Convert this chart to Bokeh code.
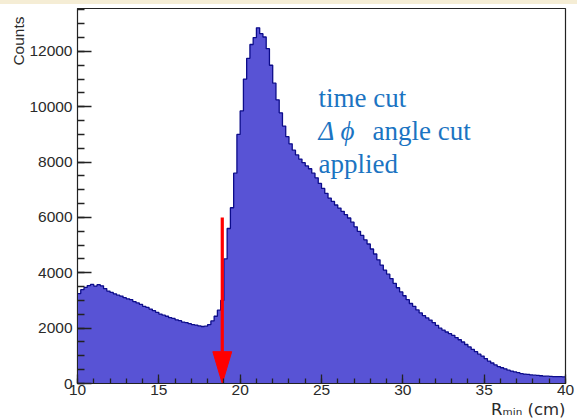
import numpy as np
from bokeh.plotting import figure
from bokeh.models import Range1d, SingleIntervalTicker, Label, Div, Arrow, Title
from bokeh.layouts import column
from bokeh.embed import file_html
from bokeh.resources import INLINE

# ---- data: histogram of R_min (cm), 150 bins of 0.2 cm from 10 to 40 ----
bin_low = 10.0
bin_high = 40.0
n_bins = 150
counts = [
    3250, 3390, 3470, 3540, 3580, 3520, 3570, 3530, 3430, 3340,   # 10.0 - 11.8
    3290, 3240, 3190, 3160, 3100, 3060, 3030, 2960, 2910, 2860,   # 12.0 - 13.8
    2790, 2750, 2690, 2630, 2570, 2510, 2470, 2430, 2380, 2350,   # 14.0 - 15.8
    2300, 2270, 2220, 2200, 2160, 2130, 2110, 2080, 2060, 2070,   # 16.0 - 17.8
    2130, 2260, 2430, 2650, 3000, 4500, 5600, 6350, 7600, 9000,   # 18.0 - 19.8
    9850, 11000, 11750, 12250, 12500, 12850, 12640, 12520, 12100, 11500,  # 20.0 - 21.8
    10850, 10250, 9780, 9300, 8920, 8660, 8430, 8260, 8110, 7980,  # 22.0 - 23.8
    7860, 7760, 7600, 7430, 7230, 7050, 6870, 6700, 6580, 6450,   # 24.0 - 25.8
    6340, 6220, 6100, 5980, 5830, 5660, 5500, 5350, 5190, 5040,   # 26.0 - 27.8
    4860, 4680, 4470, 4280, 4100, 3950, 3790, 3620, 3460, 3310,   # 28.0 - 29.8
    3170, 3030, 2890, 2790, 2660, 2550, 2450, 2370, 2290, 2200,   # 30.0 - 31.8
    2100, 2000, 1930, 1860, 1800, 1740, 1660, 1580, 1500, 1410,   # 32.0 - 33.8
    1320, 1230, 1150, 1060, 990, 900, 810, 740, 670, 610,         # 34.0 - 35.8
    570, 530, 480, 450, 420, 390, 360, 340, 330, 310,             # 36.0 - 37.8
    300, 290, 280, 270, 265, 255, 250, 248, 245, 240,             # 38.0 - 39.8
]
x_ticks_interval = 5
y_ticks_interval = 2000
cut_position = 18.9
cut_arrow_top = 6000
x_title = "R\u2098\u1d62\u2099 (cm)"
y_title = "Counts"
annotation_lines = ["time cut", "angle cut", "applied"]

# ---- figure ----
FILL = "#5853d5"
EDGE = "#0c0c8a"
TXT = "#1b74c2"
AXC = "#2a2a2a"

p = figure(width=577, height=414, output_backend="svg", toolbar_location=None,
           x_range=Range1d(bin_low, bin_high), y_range=Range1d(0, 13550),
           min_border_left=77, min_border_right=12, min_border_top=4,
           min_border_bottom=35)
p.background_fill_color = "white"
p.border_fill_color = "white"
p.outline_line_color = "#222222"
p.outline_line_width = 1.2
p.xgrid.visible = False
p.ygrid.visible = False

edges = np.linspace(bin_low, bin_high, n_bins + 1)
y_step = list(counts) + [counts[-1]]
p.varea_step(x=edges, y1=np.zeros(len(edges)), y2=y_step, step_mode="after",
             fill_color=FILL)
p.step(x=edges, y=y_step, mode="after", line_color=EDGE, line_width=1.3)

# axes (ROOT style: ticks pointing inward)
for ax in (p.xaxis[0], p.yaxis[0]):
    ax.axis_line_color = "#222222"
    ax.major_tick_line_color = "#222222"
    ax.minor_tick_line_color = "#222222"
    ax.major_tick_line_width = 1.3
    ax.minor_tick_line_width = 1.3
    ax.major_tick_out = 0
    ax.minor_tick_out = 0
    ax.major_label_text_font = "Liberation Sans"
    ax.major_label_text_font_size = "15.5px"
    ax.major_label_text_color = AXC
p.xaxis.ticker = SingleIntervalTicker(interval=x_ticks_interval, num_minor_ticks=5)
p.yaxis.ticker = SingleIntervalTicker(interval=y_ticks_interval, num_minor_ticks=4)
p.xaxis.major_tick_in = 9
p.xaxis.minor_tick_in = 5
p.yaxis.major_tick_in = 14
p.yaxis.minor_tick_in = 7
p.xaxis.major_label_standoff = 1
p.yaxis.major_label_standoff = 5

# axis titles (ROOT style: at the far end of each axis)
p.add_layout(Title(text=y_title, align="right", text_font="Liberation Sans",
                   text_font_size="15.5px", text_font_style="normal",
                   text_color=AXC, standoff=0, offset=8), "left")
p.add_layout(Title(text=x_title, align="right", text_font="DejaVu Sans",
                   text_font_size="16.5px", text_font_style="normal",
                   text_color=AXC, standoff=0), "below")

# red cut arrow
p.add_layout(Arrow(x_start=cut_position, y_start=cut_arrow_top,
                   x_end=cut_position, y_end=1150, end=None,
                   line_color="red", line_width=3.2))
hw = 0.58
p.patch(x=[cut_position - hw, cut_position + hw, cut_position],
        y=[1150, 1150, 0], fill_color="red", line_color="red")

# annotation text
p.add_layout(Label(x=241, y=286, x_units="screen", y_units="screen",
                   text=annotation_lines[0], text_font="Liberation Serif",
                   text_font_size="27px", text_color=TXT, text_baseline="alphabetic"))
p.add_layout(Label(x=241, y=253, x_units="screen", y_units="screen",
                   text="\u0394 \u03d5", text_font="Liberation Serif",
                   text_font_style="italic",
                   text_font_size="27px", text_color=TXT, text_baseline="alphabetic"))
p.add_layout(Label(x=295, y=253, x_units="screen", y_units="screen",
                   text=annotation_lines[1], text_font="Liberation Serif",
                   text_font_size="27px", text_color=TXT, text_baseline="alphabetic"))
p.add_layout(Label(x=241, y=220, x_units="screen", y_units="screen",
                   text=annotation_lines[2], text_font="Liberation Serif",
                   text_font_size="27px", text_color=TXT, text_baseline="alphabetic"))

strip = Div(text="", width=577, height=4, margin=0,
            styles={"background-color": "#f5edd5"})
layout = column(strip, p, spacing=0)

open("out.html", "w").write(file_html(layout, INLINE))
